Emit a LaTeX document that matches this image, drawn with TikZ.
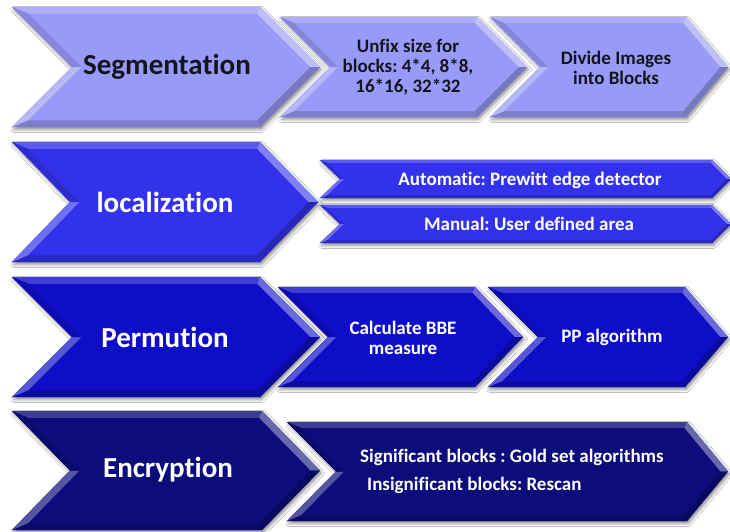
\documentclass[tikz,border=0pt]{standalone}
\usepackage{fontspec}
\setmainfont{Carlito}[Ligatures=NoCommon]
\usetikzlibrary{shadows.blur}
\frenchspacing

\definecolor{segfill}{RGB}{152,154,248}
\definecolor{locfill}{RGB}{50,50,236}
\definecolor{perfill}{RGB}{14,14,200}
\definecolor{encfill}{RGB}{12,12,124}
\definecolor{darktext}{RGB}{20,20,30}

% Bevelled chevron: #1 left, #2 top, #3 right end of flat part, #4 bottom,
% #5 notch depth, #6 tip depth, #7 bevel width, #8 fill colour
\newcommand\bevelchevron[8]{%
  \pgfmathsetmacro\chM{(#2+#4)/2}%
  \pgfmathsetmacro\chKn{#5/((#4-#2)/2)}%
  \pgfmathsetmacro\chKt{#6/((#4-#2)/2)}%
  \pgfmathsetmacro\chSn{sqrt(1+\chKn*\chKn)}%
  \pgfmathsetmacro\chSt{sqrt(1+\chKt*\chKt)}%
  \pgfmathsetmacro\chAx{#1+#7*\chSn+#7*\chKn}%
  \pgfmathsetmacro\chFx{#1+#5+#7*\chSn}%
  \pgfmathsetmacro\chBx{#3+#7*\chKt-#7*\chSt}%
  \pgfmathsetmacro\chCx{#3+#6-#7*\chSt}%
  \pgfmathsetmacro\chTi{#2+#7}%
  \pgfmathsetmacro\chBi{#4-#7}%
  \pgfmathsetmacro\chTip{#3+#6}%
  \pgfmathsetmacro\chNotch{#1+#5}%
  % body with soft drop shadow
  \path[fill=#8, blur shadow={shadow xshift=1.5pt, shadow yshift=-2.5pt,
        shadow blur radius=3pt, shadow opacity=45}]
    (#1,#2) -- (#3,#2) -- (\chTip,\chM) -- (#3,#4) -- (#1,#4) -- (\chNotch,\chM) -- cycle;
  % bevel facets
  \fill[#8!80!white] (#1,#2) -- (#3,#2) -- (\chBx,\chTi) -- (\chAx,\chTi) -- cycle;
  \fill[#8!62!white] (#3,#2) -- (\chTip,\chM) -- (\chCx,\chM) -- (\chBx,\chTi) -- cycle;
  \fill[#8!78!black] (\chTip,\chM) -- (#3,#4) -- (\chBx,\chBi) -- (\chCx,\chM) -- cycle;
  \fill[#8!82!black] (#3,#4) -- (#1,#4) -- (\chAx,\chBi) -- (\chBx,\chBi) -- cycle;
  \fill[#8!70!white] (#1,#4) -- (\chNotch,\chM) -- (\chFx,\chM) -- (\chAx,\chBi) -- cycle;
  \fill[#8!88!black] (\chNotch,\chM) -- (#1,#2) -- (\chAx,\chTi) -- (\chFx,\chM) -- cycle;
  % flat face
  \fill[#8] (\chAx,\chTi) -- (\chBx,\chTi) -- (\chCx,\chM) -- (\chBx,\chBi) -- (\chAx,\chBi) -- (\chFx,\chM) -- cycle;
}

\tikzset{
  stagelabel/.style={font=\bfseries\fontsize{29}{32}\selectfont, inner sep=0pt},
  steplabel/.style={font=\bfseries\fontsize{19}{20}\selectfont, inner sep=0pt, align=center},
}

\begin{document}
\begin{tikzpicture}[x=1pt,y=-1pt]
\useasboundingbox[fill=white] (0,0) rectangle (730,531);

% --- Segmentation row
\bevelchevron{280}{17}{477}{117}{50}{50}{6}{segfill}
\bevelchevron{490}{17}{686}{117}{50}{42}{6}{segfill}
\bevelchevron{12}{7}{260}{127}{60}{60}{7}{segfill}
\node[stagelabel, text=darktext] (seg) at (167,67) {Segmentation};
\node[steplabel, text=darktext] (unfix) at (408,67) {Unfix size for\\blocks: 4*4, 8*8,\\16*16, 32*32};
\node[steplabel, text=darktext] (divide) at (616,68) {Divide Images\\into Blocks};

% --- Localization row
\bevelchevron{12}{142}{260}{262}{58}{58}{7}{locfill}
\bevelchevron{320}{160}{712}{198}{20}{19}{3}{locfill}
\bevelchevron{320}{205}{712}{243}{20}{19}{3}{locfill}
\node[stagelabel, text=white] (loc) at (165,202) {localization};
\node[steplabel, text=white] (auto) at (530,180) {Automatic: Prewitt edge detector};
\node[steplabel, text=white] (manual) at (529,224) {Manual: User defined area};

% --- Permutation row
\bevelchevron{278}{287}{475}{387}{50}{48}{6}{perfill}
\bevelchevron{488}{287}{685}{387}{50}{43}{6}{perfill}
\bevelchevron{12}{277}{260}{397}{60}{60}{7}{perfill}
\node[stagelabel, text=white] (perm) at (165,337) {Permution};
\node[steplabel, text=white] (bbe) at (403,338) {Calculate BBE\\measure};
\node[steplabel, text=white] (pp) at (612,337) {PP algorithm};

% --- Encryption row
\bevelchevron{287}{422}{687}{521}{49}{41}{6}{encfill}
\bevelchevron{12}{411}{262}{530}{58}{58}{7}{encfill}
\node[stagelabel, text=white] (enc) at (168,470) {Encryption};
\node[steplabel, text=white, anchor=west] (sig) at (360,457) {Significant blocks : Gold set algorithms};
\node[steplabel, text=white, anchor=west] (insig) at (367,485) {Insignificant blocks: Rescan};
\end{tikzpicture}
\end{document}
